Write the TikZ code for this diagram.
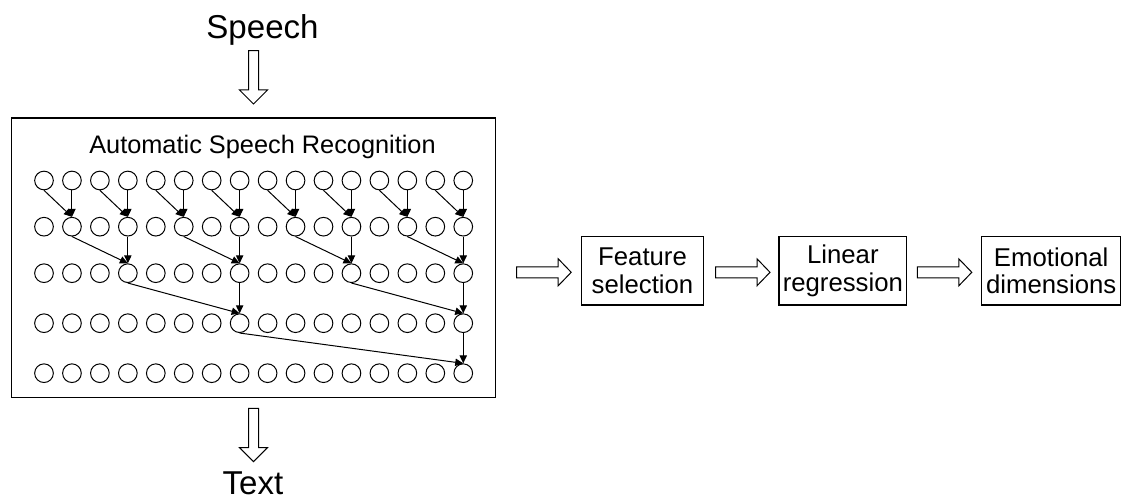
\documentclass[tikz,border=0pt]{standalone}
\usepackage{fontspec}
\setmainfont{Liberation Sans}
\usetikzlibrary{arrows.meta}
\tikzset{
  neuron/.style={circle,draw,line width=0.75pt,minimum size=14pt,inner sep=0pt},
  conn/.style={line width=0.75pt,-{Triangle[length=6pt,width=5.5pt]}},
  stagebox/.style={draw,line width=0.8pt,minimum height=51.2pt,inner sep=0pt,align=center,
    font=\fontsize{19.3}{20.8}\selectfont},
  bigtxt/.style={font=\fontsize{24.8}{28}\selectfont,anchor=base,inner sep=0pt},
  harrow/.pic={\draw[line width=0.75pt,fill=white] (0,-5.5) -- (41.5,-5.5) -- (41.5,-13.5) -- (54.5,0)
     -- (41.5,13.5) -- (41.5,5.5) -- (0,5.5) -- cycle;},
  varrow/.pic={\draw[line width=0.75pt,fill=white] (-5,0) -- (-5,39.3) -- (-14,39.3) -- (0,53.3)
     -- (14,39.3) -- (5,39.3) -- (5,0) -- cycle;}
}
\begin{document}
\begin{tikzpicture}[x=0.75pt,y=-0.75pt]
\useasboundingbox (0,0) rectangle (1122,502);

% input / output labels
\node[bigtxt] (speech) at (262.5,38.3) {Speech};
\node[bigtxt] (text) at (253,494.5) {Text};

% ASR block
\node[draw,line width=0.8pt,minimum width=363pt,minimum height=209.6pt,inner sep=0pt] (asr) at (253.7,257.75) {};
\node[font=\fontsize{19}{22}\selectfont,anchor=base,inner sep=0pt] (asrtitle) at (262.5,153.3) {Automatic Speech Recognition};

% grid of units
\foreach \r/\y in {1/180.5,2/226.7,3/273.2,4/323.2,5/373.2}
  \foreach \c in {0,...,15}
    \node[neuron] (n\r-\c) at ({44+27.95*\c},\y) {};

% edges row1 -> row2
\foreach \k in {0,...,7} {
  \pgfmathtruncatemacro\a{2*\k}
  \pgfmathtruncatemacro\b{2*\k+1}
  \draw[conn] (n1-\a.south) -- (n2-\b.north);
  \draw[conn] (n1-\b.south) -- (n2-\b.north);
}
% edges row2 -> row3
\foreach \k in {0,...,3} {
  \pgfmathtruncatemacro\a{4*\k+1}
  \pgfmathtruncatemacro\b{4*\k+3}
  \draw[conn] (n2-\a.south) -- (n3-\b.north);
  \draw[conn] (n2-\b.south) -- (n3-\b.north);
}
% edges row3 -> row4
\foreach \k in {0,1} {
  \pgfmathtruncatemacro\a{8*\k+3}
  \pgfmathtruncatemacro\b{8*\k+7}
  \draw[conn] (n3-\a.south) -- (n4-\b.north);
  \draw[conn] (n3-\b.south) -- (n4-\b.north);
}
% edges row4 -> row5
\draw[conn] (n4-7.south) -- (n5-15.north);
\draw[conn] (n4-15.south) -- (n5-15.north);

% pipeline boxes
\node[stagebox,minimum width=91.2pt] (feat) at (642.5,270.9) {Feature\\selection};
\node[stagebox,minimum width=95.8pt] (linreg) at (842.85,270.9) {Linear\\regression};
\node[stagebox,minimum width=104.25pt] (emo) at (1051.2,270.9) {Emotional\\dimensions};

% block arrows
\pic at (253.5,50.7) {varrow};
\pic at (253.5,408.3) {varrow};
\pic at (516.7,272.3) {harrow};
\pic at (715.5,272.3) {harrow};
\pic at (917.3,272.3) {harrow};
\end{tikzpicture}
\end{document}
